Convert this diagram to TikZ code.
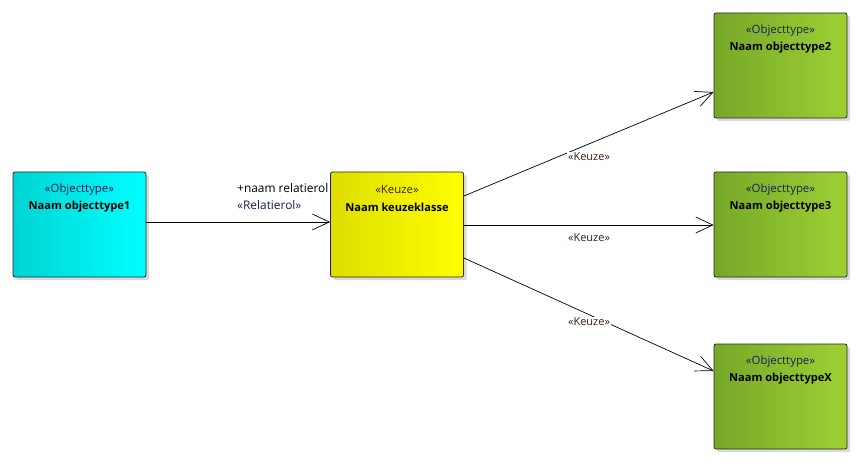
\documentclass[tikz,border=0pt]{standalone}
\usepackage{fontspec}
\setmainfont{Open Sans}
\usetikzlibrary{arrows.meta,shadows}
\definecolor{cyL}{RGB}{0,212,212}
\definecolor{cyR}{RGB}{0,255,255}
\definecolor{yeL}{RGB}{222,222,0}
\definecolor{yeR}{RGB}{255,255,0}
\definecolor{grL}{RGB}{118,168,40}
\definecolor{grR}{RGB}{158,208,52}
\definecolor{stereo}{RGB}{20,30,90}
\definecolor{kz}{RGB}{60,30,10}
\tikzset{
  cls/.style={draw=black!85, line width=0.8pt, rounded corners=2pt, minimum width=133pt, minimum height=105pt, inner sep=0pt,
    shading=axis, shading angle=90, drop shadow={opacity=0.25, shadow xshift=3pt, shadow yshift=-3pt, fill=black!60}},
  cyanbox/.style={cls, left color=cyL, right color=cyR},
  yelbox/.style={cls, left color=yeL, right color=yeR},
  grnbox/.style={cls, left color=grL, right color=grR},
  ster/.style={font=\fontsize{11.4}{13}\selectfont, text=stereo, inner sep=0pt},
  nm/.style={font=\fontsize{11.1}{13}\selectfont\bfseries, inner sep=0pt},
  lbl/.style={font=\fontsize{11}{13}\selectfont, inner sep=0pt},
  conn/.style={line width=0.7pt, -{Straight Barb[length=17pt,width=16pt,line width=0.7pt]}}
}
\begin{document}
\begin{tikzpicture}[x=1pt,y=-1pt]
\useasboundingbox (0,0) rectangle (864,465);
% boxes
\node[cyanbox] (o1) at (79.5,224.5) {};
\node[yelbox] (k) at (397,224.5) {};
\node[grnbox] (o2) at (780.5,65.5) {};
\node[grnbox] (o3) at (780.5,224.5) {};
\node[grnbox] (ox) at (780.5,396.5) {};
% texts
\node[ster] (o1s) at ([yshift=-17.5pt]o1.north) {«Objecttype»};
\node[nm] (o1n) at ([yshift=-35.5pt]o1.north) {Naam objecttype1};
\node[ster,text=kz] (ks) at ([yshift=-17.5pt]k.north) {«Keuze»};
\node[nm] (kn) at ([yshift=-35.5pt]k.north) {Naam keuzeklasse};
\node[ster] (o2s) at ([yshift=-17.5pt]o2.north) {«Objecttype»};
\node[nm] (o2n) at ([yshift=-35.5pt]o2.north) {Naam objecttype2};
\node[ster] (o3s) at ([yshift=-17.5pt]o3.north) {«Objecttype»};
\node[nm] (o3n) at ([yshift=-35.5pt]o3.north) {Naam objecttype3};
\node[ster] (oxs) at ([yshift=-17.5pt]ox.north) {«Objecttype»};
\node[nm] (oxn) at ([yshift=-35.5pt]ox.north) {Naam objecttypeX};
% connector end points
\coordinate (o1e) at ([yshift=2.5pt]o1.east);
\coordinate (kw) at ([yshift=2.5pt]k.west);
\coordinate (ke1) at ([yshift=28.5pt]k.east);
\coordinate (ke2) at ([yshift=-0.5pt]k.east);
\coordinate (ke3) at ([yshift=-33.5pt]k.east);
\coordinate (o2w) at ([yshift=-26.5pt]o2.west);
\coordinate (o3w) at ([yshift=-0.5pt]o3.west);
\coordinate (oxw) at ([yshift=25.5pt]ox.west);
% connectors
\draw[conn] (o1e) -- (kw);
\draw[conn] (ke1) -- (o2w);
\draw[conn] (ke2) -- (o3w);
\draw[conn] (ke3) -- (oxw);
% labels
\node[lbl, anchor=west, font=\fontsize{11.9}{13}\selectfont] (rr) at (237,188.5) {+naam relatierol};
\node[lbl, anchor=west, text=stereo, font=\fontsize{11.9}{13}\selectfont] (rs) at (237,205.5) {«Relatierol»};
\node[lbl, text=kz, fill=white, inner sep=1pt] (l1) at (589,157) {«Keuze»};
\node[lbl, text=kz] (l2) at (589,238) {«Keuze»};
\node[lbl, text=kz, fill=white, inner sep=1pt] (l3) at (589,322) {«Keuze»};
\end{tikzpicture}
\end{document}
